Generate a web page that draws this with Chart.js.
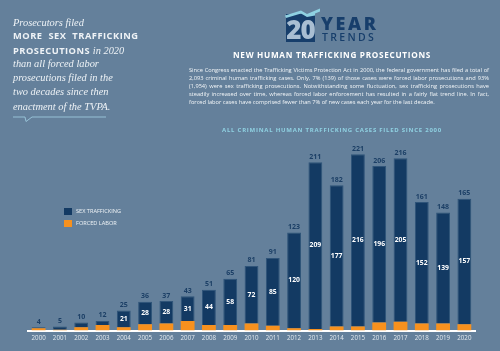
<!DOCTYPE html>
<html>
<head>
<meta charset="utf-8">
<script src="https://cdn.jsdelivr.net/npm/chart.js@4.4.1/dist/chart.umd.min.js"></script>
<style>
  html, body { margin:0; padding:0; }
  body { width:500px; height:351px; background:#64809b; position:relative; overflow:hidden; font-family:"Open Sans", sans-serif; }
  #c { position:absolute; left:0; top:0; }
  .abs { position:absolute; white-space:nowrap; }
  .sl { position:absolute; left:13px; color:#eef2f6; font-family:"Liberation Serif", serif; font-style:italic; font-size:10.4px; white-space:nowrap; line-height:12px; }
  .sl b { font-family:"Open Sans", sans-serif; font-style:normal; font-weight:700; font-size:9.3px; letter-spacing:0.5px; }
  #head { left:182px; width:300px; top:49px; text-align:center; color:#fff; font-weight:700; font-size:8.2px; letter-spacing:0.7px; }
  #para { left:189px; top:67px; width:300px; white-space:normal; text-align:justify; color:#f2f5f8; font-size:5.68px; line-height:7.9px; }
  #ctitle { left:182px; width:300px; top:126px; text-align:center; color:#8fd1e2; font-weight:700; font-size:6px; letter-spacing:0.75px; }
  #year { left:321px; top:11px; color:#173e6b; font-weight:800; font-size:18px; letter-spacing:2.6px; }
  #trends { left:322px; top:29.5px; color:#173e6b; font-weight:600; font-size:10.5px; letter-spacing:2.3px; }
  #twenty { left:285px; top:14px; width:31px; text-align:center; color:#a9bed2; font-weight:800; font-size:26px; letter-spacing:-1px; line-height:30px; }
  .lg { position:absolute; width:7.5px; height:7.5px; }
  .lt { position:absolute; color:#eef2f6; font-size:5.6px; white-space:nowrap; }
</style>
</head>
<body>
<canvas id="c" width="500" height="351"></canvas>

<svg class="abs" style="left:0;top:0" width="500" height="351">
  <rect x="286" y="14" width="29" height="28" fill="#173e6b"/>
  <polygon points="285,15.5 301,10.5 307,14 320,8.5 320,11.5 315,13.5 315,15.5 307,17 301,13.5 286,18" fill="#8fd1e2"/>
  <path d="M13 117 H25 L26 121.5 L32 117 H106" stroke="#9cc8de" stroke-width="0.9" fill="none"/>
</svg>
<div id="twenty" class="abs">20</div>
<div id="year" class="abs">YEAR</div>
<div id="trends" class="abs">TRENDS</div>

<div class="sl" style="top:16.7px">Prosecutors filed</div>
<div class="sl" style="top:30px"><b style="word-spacing:3px">MORE SEX TRAFFICKING</b></div>
<div class="sl" style="top:44.7px"><b>PROSECUTIONS</b> in 2020</div>
<div class="sl" style="top:58.3px">than all forced labor</div>
<div class="sl" style="top:72.3px">prosecutions filed in the</div>
<div class="sl" style="top:85.7px">two decades since then</div>
<div class="sl" style="top:100.5px">enactment of the TVPA.</div>

<div id="head" class="abs">NEW HUMAN TRAFFICKING PROSECUTIONS</div>
<div id="para" class="abs">Since Congress enacted the Trafficking Victims Protection Act in 2000, the federal government has filed a total of 2,093 criminal human trafficking cases. Only, 7% (139) of those cases were forced labor prosecutions and 93% (1,954) were sex trafficking prosecutions. Notwithstanding some fluctuation, sex trafficking prosecutions have steadily increased over time, whereas forced labor enforcement has resulted in a fairly flat trend line. In fact, forced labor cases have comprised fewer than 7% of new cases each year for the last decade.</div>
<div id="ctitle" class="abs">ALL CRIMINAL HUMAN TRAFFICKING CASES FILED SINCE 2000</div>

<div class="lg" style="left:64.3px;top:207.7px;background:#133a63"></div>
<div class="lt" style="left:76px;top:207px">SEX TRAFFICKING</div>
<div class="lg" style="left:64.3px;top:219.7px;background:#f7911e"></div>
<div class="lt" style="left:76px;top:219px">FORCED LABOR</div>

<script>
const years = ["2000","2001","2002","2003","2004","2005","2006","2007","2008","2009","2010","2011","2012","2013","2014","2015","2016","2017","2018","2019","2020"];
const sexTrafficking = [1,4,6,5,21,28,28,31,44,58,72,85,120,209,177,216,196,205,152,139,157];
const forcedLabor   = [3,1,4,7,4,8,9,12,7,7,9,6,3,2,5,5,10,11,9,9,8];
const totals        = [4,5,10,12,25,36,37,43,51,65,81,91,123,211,182,221,206,216,161,148,165];

const labelPlugin = {
  id: 'labels',
  afterDatasetsDraw(chart) {
    const ctx = chart.ctx;
    const sexMeta = chart.getDatasetMeta(1);
    const flMeta = chart.getDatasetMeta(0);
    ctx.save();
    ctx.textAlign = 'center';
    ctx.textBaseline = 'middle';
    sexMeta.data.forEach((bar, i) => {
      ctx.font = '700 7px "Open Sans"';
      ctx.fillStyle = '#1c3f66';
      ctx.fillText(String(totals[i]), bar.x, bar.y - 5.5);
      if (sexTrafficking[i] >= 20) {
        ctx.fillStyle = '#ffffff';
        ctx.font = '700 6.8px "Open Sans"';
        const bottom = flMeta.data[i].y;
        ctx.fillText(String(sexTrafficking[i]), bar.x, (bar.y + bottom) / 2);
      }
    });
    ctx.restore();
  }
};

new Chart(document.getElementById('c'), {
  type: 'bar',
  data: {
    labels: years,
    datasets: [
      { label: 'FORCED LABOR', data: forcedLabor, backgroundColor: '#f7911e', borderWidth: 0 },
      { label: 'SEX TRAFFICKING', data: sexTrafficking, backgroundColor: '#133a63', borderColor: '#2f5479', borderWidth: 1 }
    ]
  },
  options: {
    responsive: false,
    animation: false,
    layout: { padding: { left: 28, right: 25, top: 131, bottom: 5 } },
    datasets: { bar: { categoryPercentage: 1, barPercentage: 0.65 } },
    plugins: { legend: { display: false }, tooltip: { enabled: false } },
    scales: {
      x: {
        stacked: true,
        grid: { display: false, drawTicks: false },
        border: { display: true, color: '#ffffff', width: 2 },
        ticks: { color: '#e3e9ef', font: { family: 'Open Sans', size: 6.2 }, padding: 4, maxRotation: 0, minRotation: 0, autoSkip: false }
      },
      y: { stacked: true, display: false, min: 0, max: 250 }
    }
  },
  plugins: [labelPlugin]
});
</script>
</body>
</html>
